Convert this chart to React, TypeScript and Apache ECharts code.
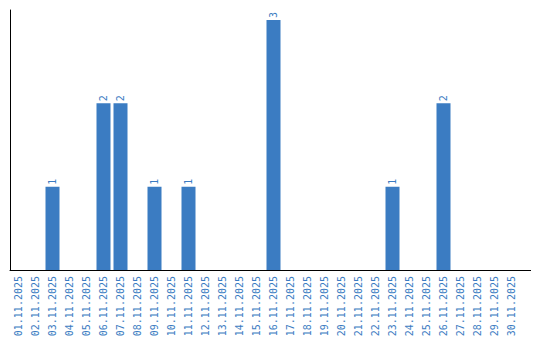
import React, { useEffect, useRef } from "react";
import * as echarts from "echarts";

const categories = [
  "01.11.2025", "02.11.2025", "03.11.2025", "04.11.2025", "05.11.2025",
  "06.11.2025", "07.11.2025", "08.11.2025", "09.11.2025", "10.11.2025",
  "11.11.2025", "12.11.2025", "13.11.2025", "14.11.2025", "15.11.2025",
  "16.11.2025", "17.11.2025", "18.11.2025", "19.11.2025", "20.11.2025",
  "21.11.2025", "22.11.2025", "23.11.2025", "24.11.2025", "25.11.2025",
  "26.11.2025", "27.11.2025", "28.11.2025", "29.11.2025", "30.11.2025",
];
const values = [
  0, 0, 1, 0, 0, 2, 2, 0, 1, 0,
  1, 0, 0, 0, 0, 3, 0, 0, 0, 0,
  0, 0, 1, 0, 0, 2, 0, 0, 0, 0,
];

const BLUE = "#3b7cc2";

export default function App() {
  const ref = useRef<HTMLDivElement>(null);
  useEffect(() => {
    const chart = echarts.init(ref.current!, null, { renderer: "svg" });
    chart.setOption({
      animation: false,
      grid: { left: 10, top: 10, width: 510, height: 260, containLabel: false },
      xAxis: {
        type: "category",
        data: categories,
        axisLine: { show: true, lineStyle: { color: "#000", width: 1 } },
        axisTick: { show: false },
        axisLabel: {
          rotate: 90,
          interval: 0,
          margin: 6,
          color: BLUE,
          fontFamily: "DejaVu Sans Mono",
          fontSize: 10,
        },
      },
      yAxis: {
        type: "value",
        min: 0,
        max: 3.12,
        axisLine: { show: true, lineStyle: { color: "#000", width: 1 } },
        axisTick: { show: false },
        axisLabel: { show: false },
        splitLine: { show: false },
      },
      graphic: [
        {
          type: "line",
          shape: { x1: 520, y1: 270.5, x2: 531, y2: 270.5 },
          style: { stroke: "#000", lineWidth: 1 },
        },
      ],
      series: [
        {
          type: "bar",
          data: values.map((v) => (v === 0 ? null : v)),
          barWidth: 14,
          itemStyle: { color: BLUE },
          label: {
            show: true,
            position: "top",
            rotate: 90,
            align: "left",
            verticalAlign: "middle",
            distance: 2,
            color: BLUE,
            fontFamily: "DejaVu Sans Mono",
            fontSize: 10,
          },
        },
      ],
    });
    return () => chart.dispose();
  }, []);
  return <div ref={ref} style={{ width: 540, height: 340, position: "absolute", left: 0, top: 0, background: "#fff" }} />;
}
